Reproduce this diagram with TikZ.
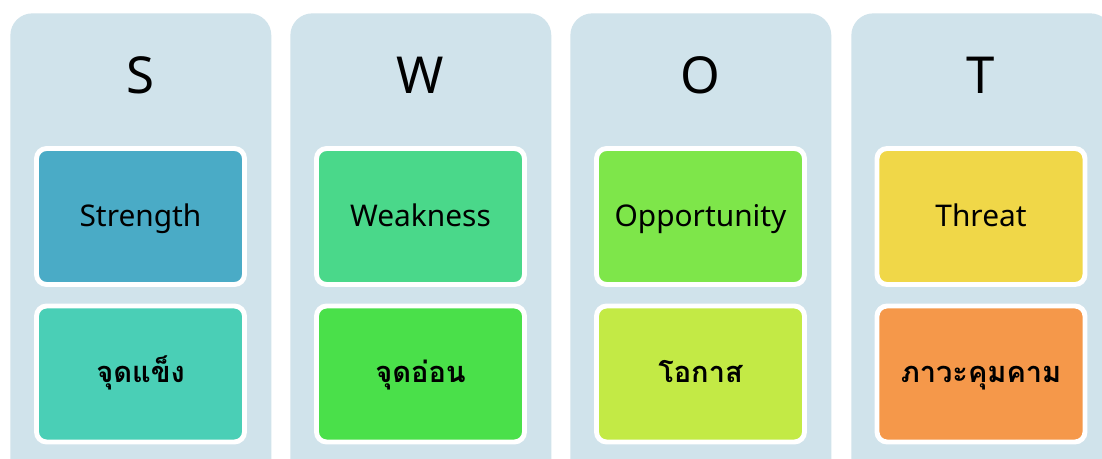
\documentclass[tikz,border=0pt]{standalone}
\usepackage{fontspec}
\setmainfont{Noto Sans}
\newfontfamily\thaifont[Script=Thai]{Loma}
\usetikzlibrary{positioning}

\definecolor{panelbg}{HTML}{D0E3EB}
\definecolor{sone}{HTML}{4AABC6}
\definecolor{stwo}{HTML}{4ACFB6}
\definecolor{wone}{HTML}{4AD88A}
\definecolor{wtwo}{HTML}{4AE04A}
\definecolor{oone}{HTML}{7EE64A}
\definecolor{otwo}{HTML}{C3EA45}
\definecolor{tone}{HTML}{F0D748}
\definecolor{ttwo}{HTML}{F5984A}

\tikzset{
    panel/.style={fill=panelbg, rounded corners=0.44cm, minimum width=5.22cm,
        minimum height=10cm, anchor=north west, inner sep=0pt},
    letter/.style={font=\fontsize{29}{34}\selectfont},
    card/.style={draw=white, line width=2.8pt, rounded corners=0.2cm,
        minimum width=4.16cm, minimum height=2.72cm, inner sep=0pt,
        text height=11pt, text depth=0pt,
        font=\fontsize{17}{20}\selectfont},
    thaicard/.style={card, text height=10pt,
        font=\thaifont\bfseries\fontsize{16.5}{20}\selectfont}
}

\begin{document}
\begin{tikzpicture}[x=0.02cm, y=-0.02cm]
    \useasboundingbox (0,0) rectangle (1102,459);
    \clip (0,0) rectangle (1102,459);
    \fill[white] (0,0) rectangle (1102,459);

    % panels
    \node[panel] (pS) at (10,13) {};
    \node[panel] (pW) at (290,13) {};
    \node[panel] (pO) at (570,13) {};
    \node[panel] (pT) at (851,13) {};

    % letters
    \node[letter] (lS) at (140.5,75) {S};
    \node[letter] (lW) at (420.5,75) {W};
    \node[letter] (lO) at (700.5,75) {O};
    \node[letter] (lT) at (981,75) {T};

    % english cards
    \node[card, fill=sone] (eS) at (140.5,216.5) {Strength};
    \node[card, fill=wone] (eW) at (420.5,216.5) {Weakness};
    \node[card, fill=oone] (eO) at (700.5,216.5) {Opportunity};
    \node[card, fill=tone] (eT) at (981,216.5) {Threat};

    % thai cards
    \node[thaicard, fill=stwo] (tS) at (140.5,374) {จุดแข็ง};
    \node[thaicard, fill=wtwo] (tW) at (420.5,374) {จุดอ่อน};
    \node[thaicard, fill=otwo] (tO) at (700.5,374) {โอกาส};
    \node[thaicard, fill=ttwo] (tT) at (981,374) {ภาวะคุมคาม};
\end{tikzpicture}
\end{document}
